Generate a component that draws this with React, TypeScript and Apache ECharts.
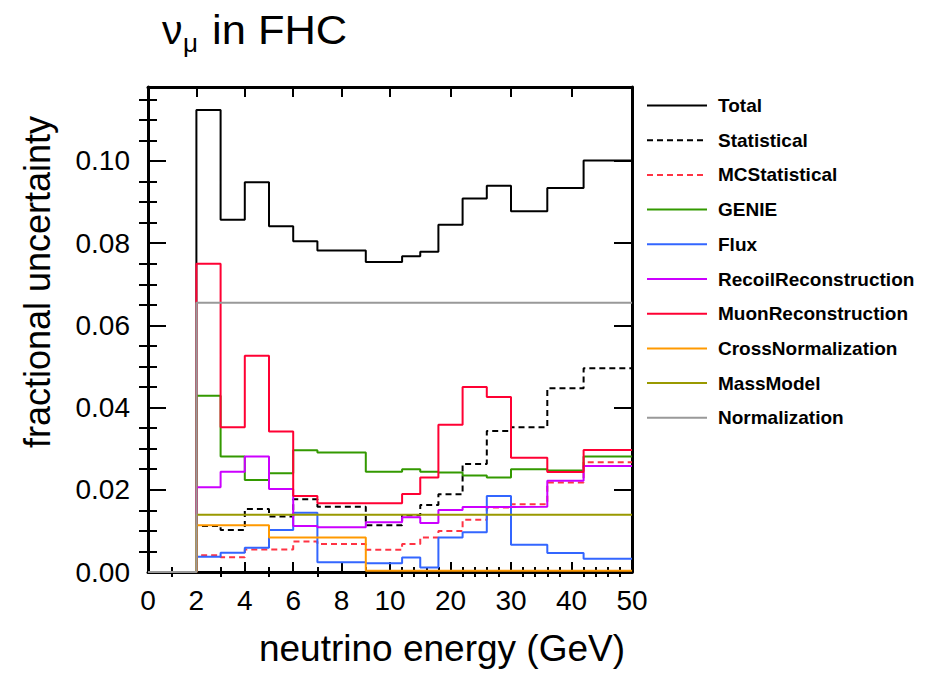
import React, { useEffect, useRef } from "react";
import * as echarts from "echarts";

// Bin edges in GeV (first bin 0-2 is empty)
const binEdges = [0, 2, 3, 4, 5, 6, 7, 9, 12, 15, 18, 22, 26, 30, 36, 42, 50];

const seriesNames = [
  "Total",
  "Statistical",
  "MCStatistical",
  "GENIE",
  "Flux",
  "RecoilReconstruction",
  "MuonReconstruction",
  "CrossNormalization",
  "MassModel",
  "Normalization",
];

const total = [0, 0.1124, 0.0857, 0.0948, 0.0841, 0.0805, 0.0782, 0.0754, 0.0768, 0.0779, 0.0845, 0.0909, 0.094, 0.0878, 0.0934, 0.1001];
const statistical = [0, 0.0112, 0.0102, 0.0153, 0.0135, 0.0177, 0.0159, 0.0114, 0.0138, 0.0163, 0.0189, 0.0263, 0.0343, 0.0352, 0.0447, 0.0496];
const mcStatistical = [0, 0.0041, 0.0036, 0.0055, 0.0055, 0.0074, 0.0068, 0.0054, 0.0068, 0.0084, 0.01, 0.0127, 0.0157, 0.0165, 0.0218, 0.0267];
const genie = [0, 0.0429, 0.0281, 0.0224, 0.024, 0.0296, 0.0291, 0.0244, 0.025, 0.0244, 0.0242, 0.0235, 0.023, 0.025, 0.0247, 0.0281];
const flux = [0, 0.0037, 0.0047, 0.0059, 0.0102, 0.0144, 0.0024, 0.0021, 0.0035, 0.0011, 0.0084, 0.0097, 0.0185, 0.0066, 0.0046, 0.0032];
const recoilReco = [0, 0.0206, 0.0244, 0.0281, 0.0202, 0.0112, 0.0109, 0.0121, 0.0133, 0.0119, 0.0151, 0.0158, 0.0158, 0.0159, 0.0222, 0.0258];
const muonReco = [0, 0.075, 0.0352, 0.0526, 0.0342, 0.0185, 0.0167, 0.0167, 0.019, 0.023, 0.0358, 0.045, 0.0426, 0.0278, 0.0243, 0.0297];
const crossNorm = [0, 0.0114, 0.0114, 0.0114, 0.0084, 0.0084, 0.0084, 0.0003, 0.0003, 0.0003, 0.0003, 0.0003, 0.0003, 0.0003, 0.0003, 0.0003];
const massModel = [0, 0.0139, 0.0139, 0.0139, 0.0139, 0.0139, 0.0139, 0.0139, 0.0139, 0.0139, 0.0139, 0.0139, 0.0139, 0.0139, 0.0139, 0.0139];
const normalization = [0, 0.0655, 0.0655, 0.0655, 0.0655, 0.0655, 0.0655, 0.0655, 0.0655, 0.0655, 0.0655, 0.0655, 0.0655, 0.0655, 0.0655, 0.0655];

const xMajorTicks = [0, 2, 4, 6, 8, 10, 20, 30, 40, 50];
const xMinorTicks = [1, 3, 5, 7, 9, 12, 14, 16, 18, 22, 24, 26, 28, 32, 34, 36, 38, 42, 44, 46, 48];
const yMajorTicks = [0, 0.02, 0.04, 0.06, 0.08, 0.1];
const yMinorTicks = [0.005, 0.01, 0.015, 0.025, 0.03, 0.035, 0.045, 0.05, 0.055, 0.065, 0.07, 0.075, 0.085, 0.09, 0.095, 0.105, 0.11, 0.115];

const FONT = "'Liberation Sans', Arial, Helvetica, sans-serif";

// piecewise-linear energy axis: 0-10 GeV linear, 10-50 GeV compressed 4x
const toAxis = (e: number) => (e <= 10 ? e : 10 + (e - 10) / 4);
const fromAxis = (t: number) => (t <= 10 ? t : 10 + (t - 10) * 4);

const histPoints = (vals: number[]) => {
  const pts: number[][] = [];
  for (let i = 0; i < vals.length; i++) pts.push([toAxis(binEdges[i]), vals[i]]);
  pts.push([toAxis(binEdges[binEdges.length - 1]), vals[vals.length - 1]]);
  return pts;
};

const seriesDefs = [
  { name: seriesNames[0], data: total, color: "#000000", type: "solid" },
  { name: seriesNames[1], data: statistical, color: "#000000", type: [6, 4] },
  { name: seriesNames[2], data: mcStatistical, color: "#ff3344", type: [6, 4] },
  { name: seriesNames[3], data: genie, color: "#339900", type: "solid" },
  { name: seriesNames[4], data: flux, color: "#3366ff", type: "solid" },
  { name: seriesNames[5], data: recoilReco, color: "#cc00ff", type: "solid" },
  { name: seriesNames[6], data: muonReco, color: "#ff0033", type: "solid" },
  { name: seriesNames[7], data: crossNorm, color: "#ff9900", type: "solid" },
  { name: seriesNames[8], data: massModel, color: "#999900", type: "solid" },
  { name: seriesNames[9], data: normalization, color: "#999999", type: "solid" },
];

const X_MAX = toAxis(50);
const Y_MAX = 0.118;

export default function App() {
  const ref = useRef<HTMLDivElement>(null);
  useEffect(() => {
    if (!ref.current) return;
    const chart = echarts.init(ref.current, null, { renderer: "svg" });
    const frame = { show: true, onZero: false, lineStyle: { color: "#000", width: 3 } };
    const noLine = { show: false };
    const xBase = { type: "value", min: 0, max: X_MAX, splitLine: { show: false }, gridIndex: 0 };
    const yBase = { type: "value", min: 0, max: Y_MAX, splitLine: { show: false }, gridIndex: 0 };
    const tick = (vals: number[], len: number) => ({
      show: true,
      inside: true,
      length: len,
      customValues: vals,
      lineStyle: { color: "#000", width: 2 },
    });
    const option: any = {
      animation: false,
      backgroundColor: "#ffffff",
      grid: { left: 148, top: 87, width: 484, height: 485, containLabel: false },
      xAxis: [
        {
          ...xBase,
          position: "bottom",
          axisLine: frame,
          axisTick: tick(xMajorTicks.map(toAxis), 10),
          axisLabel: {
            show: true,
            customValues: xMajorTicks.map(toAxis),
            formatter: (v: number) => String(Math.round(fromAxis(v))),
            fontSize: 28,
            color: "#000",
            fontFamily: FONT,
            margin: 14,
          },
        },
        { ...xBase, position: "bottom", axisLine: noLine, axisTick: tick(xMinorTicks.map(toAxis), 5), axisLabel: { show: false } },
        { ...xBase, position: "top", axisLine: frame, axisTick: tick(xMajorTicks.map(toAxis), 10), axisLabel: { show: false } },
        { ...xBase, position: "top", axisLine: noLine, axisTick: tick(xMinorTicks.map(toAxis), 5), axisLabel: { show: false } },
      ],
      yAxis: [
        {
          ...yBase,
          position: "left",
          axisLine: frame,
          axisTick: tick(yMajorTicks, 18),
          axisLabel: {
            show: true,
            customValues: yMajorTicks,
            formatter: (v: number) => v.toFixed(2),
            fontSize: 28,
            color: "#000",
            fontFamily: FONT,
            margin: 18,
          },
        },
        { ...yBase, position: "left", axisLine: noLine, axisTick: tick(yMinorTicks, 9), axisLabel: { show: false } },
        { ...yBase, position: "right", axisLine: frame, axisTick: tick(yMajorTicks, 18), axisLabel: { show: false } },
        { ...yBase, position: "right", axisLine: noLine, axisTick: tick(yMinorTicks, 9), axisLabel: { show: false } },
      ],
      legend: {
        orient: "vertical",
        left: 641,
        top: 91,
        itemWidth: 60,
        itemHeight: 20,
        itemGap: 15.7,
        selectedMode: false,
        data: seriesNames,
        itemStyle: { opacity: 0 },
        textStyle: { fontSize: 19, fontWeight: "bold", color: "#000", fontFamily: FONT, padding: [0, 0, 0, 6] },
      },
      series: seriesDefs.map((s) => ({
        name: s.name,
        type: "line",
        step: "end",
        xAxisIndex: 0,
        yAxisIndex: 0,
        symbol: "none",
        showSymbol: false,
        data: histPoints(s.data),
        color: s.color,
        lineStyle: { color: s.color, width: 2, type: s.type },
        itemStyle: { color: s.color },
      })),
      graphic: [
        { type: "text", left: 162, top: 9, style: { text: "ν", fontSize: 41, fontFamily: FONT, fill: "#000" } },
        { type: "text", left: 183, top: 30, style: { text: "μ", fontSize: 26, fontFamily: FONT, fill: "#000" } },
        { type: "text", x: 212, y: 9, scaleX: 1.06, style: { text: "in FHC", fontSize: 41, fontFamily: FONT, fill: "#000" } },
        {
          type: "text",
          x: 37,
          y: 282,
          rotation: Math.PI / 2,
          style: { text: "fractional uncertainty", fontSize: 36, fontFamily: FONT, fill: "#000", align: "center", verticalAlign: "middle" },
        },
        {
          type: "text",
          x: 625,
          y: 648,
          style: { text: "neutrino energy (GeV)", fontSize: 37, fontFamily: FONT, fill: "#000", align: "right", verticalAlign: "middle" },
        },
      ],
    };
    chart.setOption(option);
    return () => chart.dispose();
  }, []);
  return <div ref={ref} style={{ position: "absolute", left: 0, top: 0, width: 943, height: 673 }} />;
}
